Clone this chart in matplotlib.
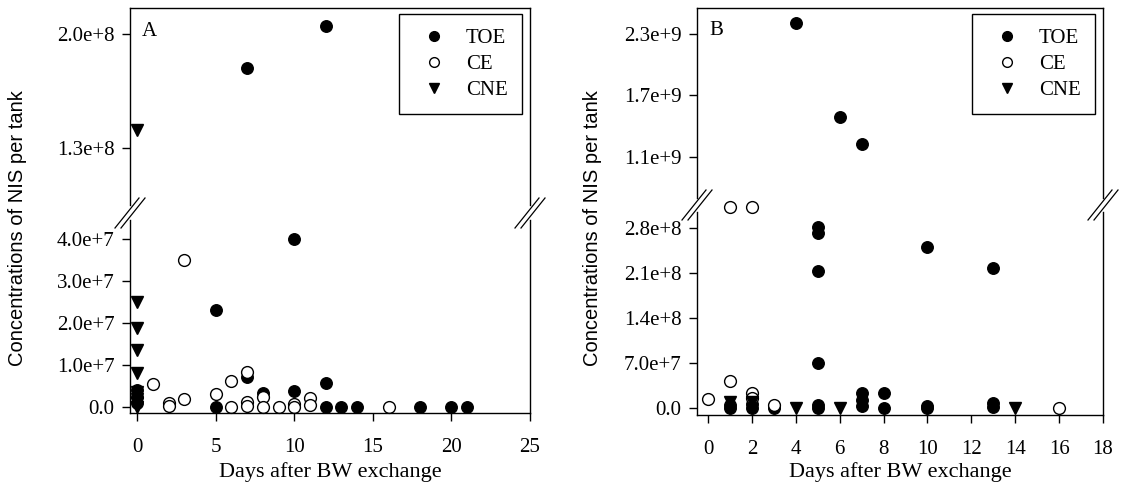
import numpy as np
import matplotlib.pyplot as plt
from matplotlib.lines import Line2D

plt.rcParams['font.family'] = ['Liberation Serif', 'DejaVu Serif']

# panel A data (days, concentration)
toe_a_x = [0, 0, 0, 5, 5, 7, 7, 8, 10, 10, 12, 12, 12, 13, 14, 18, 20, 21]
toe_a_y = [0.4e7, 0.25e7, 0.1e7, 2.3e7, 0, 1.79e8, 0.72e7, 0.33e7, 4.0e7, 0.38e7,
           2.05e8, 0.57e7, 0, 0, 0, 0, 0, 0]
ce_a_x = [1, 2, 2, 3, 3, 5, 6, 6, 7, 7, 7, 8, 8, 9, 10, 10, 11, 11, 16]
ce_a_y = [0.55e7, 0.1e7, 0.03e7, 3.5e7, 0.2e7, 0.3e7, 0.62e7, 0, 0.83e7, 0.12e7, 0.02e7,
          0.25e7, 0, 0, 0.07e7, 0, 0.22e7, 0.05e7, 0]
cne_a_x = [0, 0, 0, 0, 0, 0, 0, 0, 0]
cne_a_y = [1.41e8, 2.5e7, 1.88e7, 1.36e7, 0.81e7, 0.35e7, 0.2e7, 0.1e7, 0]

# panel B data
toe_b_x = [1, 1, 2, 2, 3, 3, 4, 5, 5, 5, 5, 5, 5, 6, 7, 7, 7, 7, 8, 8, 10, 10, 10, 13, 13, 13]
toe_b_y = [0.5e7, 0, 0.6e7, 0, 0.3e7, 0, 2.40e9, 2.81e8, 2.72e8, 2.13e8, 7.0e7, 0.5e7, 0,
           1.49e9, 1.23e9, 2.3e7, 1.2e7, 0.3e7, 2.3e7, 0, 2.5e8, 0.3e7, 0, 2.18e8, 0.8e7, 0.2e7]
ce_b_x = [0, 1, 1, 2, 2, 2, 3, 16]
ce_b_y = [1.4e7, 3.13e8, 4.2e7, 3.13e8, 2.3e7, 1.5e7, 0.5e7, 0]
cne_b_x = [1, 2, 4, 6, 14]
cne_b_y = [1.0e7, 1.0e7, 0, 0, 0]

a_lo_ticks = [0, 1e7, 2e7, 3e7, 4e7]
a_lo_labels = ['0.0', '1.0e+7', '2.0e+7', '3.0e+7', '4.0e+7']
a_hi_ticks = [1.3e8, 2.0e8]
a_hi_labels = ['1.3e+8', '2.0e+8']
b_lo_ticks = [0, 7e7, 1.4e8, 2.1e8, 2.8e8]
b_lo_labels = ['0.0', '7.0e+7', '1.4e+8', '2.1e+8', '2.8e+8']
b_hi_ticks = [1.1e9, 1.7e9, 2.3e9]
b_hi_labels = ['1.1e+9', '1.7e+9', '2.3e+9']

W, H = 1126, 490
fig = plt.figure(figsize=(11.26, 4.9), dpi=100)


def px_axes(l, t, r, b):
    return fig.add_axes([l / W, 1 - b / H, (r - l) / W, (b - t) / H])


def draw(ax, tx, ty, cx, cy, nx, ny, cut, upper):
    # only the points that belong to this part of the broken axis
    def part(x, y):
        x, y = np.asarray(x), np.asarray(y)
        m = y >= cut if upper else y < cut
        return x[m], y[m]
    x, y = part(tx, ty)
    ax.plot(x, y, 'o', ms=8.3, mfc='black', mec='black', ls='none', clip_on=False)
    x, y = part(cx, cy)
    ax.plot(x, y, 'o', ms=8.5, mfc='white', mec='black', mew=1.0, ls='none', clip_on=False)
    x, y = part(nx, ny)
    ax.plot(x, y, 'v', ms=8.5, mfc='black', mec='black', ls='none', clip_on=False)


def style(ax, top):
    ax.tick_params(direction='out', labelsize=15, length=6, width=1, pad=5)
    for s in ax.spines.values():
        s.set_linewidth(1.0)
    if top:
        ax.spines['bottom'].set_visible(False)
        ax.tick_params(axis='x', bottom=False, labelbottom=False)
    else:
        ax.spines['top'].set_visible(False)
        ax.tick_params(axis='x', pad=12)


def brk(x, y):
    for dx in (-3, 3):
        fig.add_artist(Line2D([(x + dx - 12) / W, (x + dx + 12) / W],
                              [1 - (y + 15) / H, 1 - (y - 15) / H],
                              color='black', lw=0.9))


# panel A
a_hi = px_axes(130, 8, 530, 205)
a_lo = px_axes(130, 220, 530, 413)
draw(a_hi, toe_a_x, toe_a_y, ce_a_x, ce_a_y, cne_a_x, cne_a_y, 6e7, True)
draw(a_lo, toe_a_x, toe_a_y, ce_a_x, ce_a_y, cne_a_x, cne_a_y, 6e7, False)
for ax in (a_hi, a_lo):
    ax.set_xlim(-0.45, 25)
a_hi.set_ylim(0.95e8, 2.16e8)
a_lo.set_ylim(-0.14e7, 4.45e7)
a_hi.set_yticks(a_hi_ticks, a_hi_labels)
a_lo.set_yticks(a_lo_ticks, a_lo_labels)
a_lo.set_xticks([0, 5, 10, 15, 20, 25])
style(a_hi, True)
style(a_lo, False)
a_lo.set_xlabel('Days after BW exchange', fontsize=16, labelpad=3.5)
a_hi.text(0.03, 0.93, 'A', transform=a_hi.transAxes, fontsize=15, va='top')

# panel B
b_hi = px_axes(697, 8, 1103, 198)
b_lo = px_axes(697, 212, 1103, 415)
draw(b_hi, toe_b_x, toe_b_y, ce_b_x, ce_b_y, cne_b_x, cne_b_y, 5e8, True)
draw(b_lo, toe_b_x, toe_b_y, ce_b_x, ce_b_y, cne_b_x, cne_b_y, 5e8, False)
for ax in (b_hi, b_lo):
    ax.set_xlim(-0.5, 18)
b_hi.set_ylim(0.70e9, 2.55e9)
b_lo.set_ylim(-1.1e7, 3.05e8)
b_hi.set_yticks(b_hi_ticks, b_hi_labels)
b_lo.set_yticks(b_lo_ticks, b_lo_labels)
b_lo.set_xticks(np.arange(0, 19, 2))
style(b_hi, True)
style(b_lo, False)
b_lo.set_xlabel('Days after BW exchange', fontsize=16, labelpad=2)
b_hi.text(0.03, 0.93, 'B', transform=b_hi.transAxes, fontsize=15, va='top')

# legends
handles = [Line2D([], [], marker='o', ls='none', mfc='black', mec='black', ms=7),
           Line2D([], [], marker='o', ls='none', mfc='white', mec='black', ms=7),
           Line2D([], [], marker='v', ls='none', mfc='black', mec='black', ms=7)]
for ax in (a_hi, b_hi):
    h_ax = ax.get_position().height * H
    w_ax = ax.get_position().width * W
    leg = ax.legend(handles, ['TOE', 'CE', 'CNE'], loc='upper right', fontsize=15,
                    frameon=True, fancybox=False, edgecolor='black', framealpha=1,
                    borderpad=0.7, labelspacing=0.3, handletextpad=0.5,
                    borderaxespad=0, bbox_to_anchor=(1 - 8 / w_ax, 1 - 6 / h_ax))
    leg.get_frame().set_linewidth(1.0)

# y labels
fig.text(18 / W, 1 - 228 / H, 'Concentrations of NIS per tank', rotation=90,
         ha='center', va='center', fontsize=14.5, family=['Liberation Sans', 'DejaVu Sans'])
fig.text(593 / W, 1 - 228 / H, 'Concentrations of NIS per tank', rotation=90,
         ha='center', va='center', fontsize=14.5, family=['Liberation Sans', 'DejaVu Sans'])

# axis break marks
brk(130, 213)
brk(530, 213)
brk(697, 205)
brk(1103, 205)

fig.savefig('out.png', dpi=100)
